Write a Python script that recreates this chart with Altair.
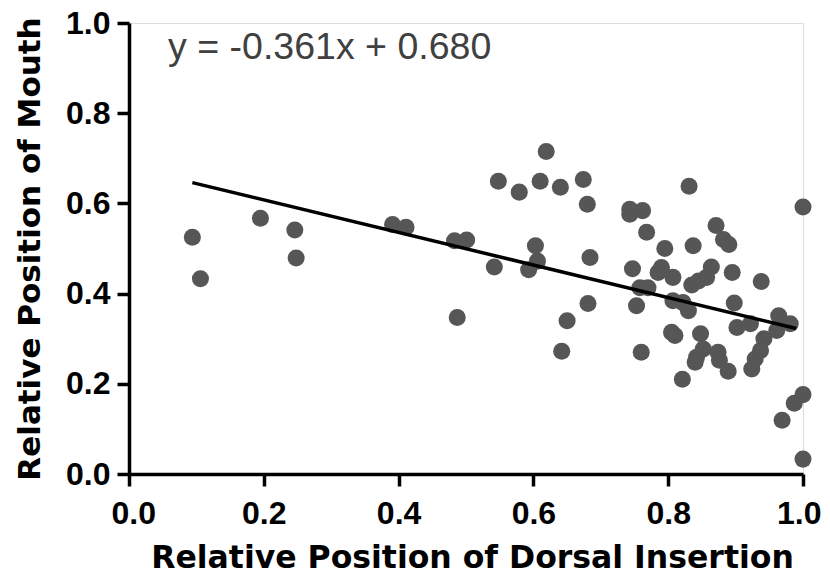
import altair as alt
import pandas as pd

# Scatter data
dorsal = [0.094, 0.106, 0.195, 0.246, 0.248, 0.391, 0.411, 0.483, 0.501, 0.487,
          0.548, 0.542, 0.579, 0.619, 0.610, 0.640, 0.674, 0.680, 0.603, 0.606,
          0.593, 0.684, 0.681, 0.650, 0.642, 0.743, 0.743, 0.762, 0.768, 0.795,
          0.747, 0.790, 0.785, 0.758, 0.770, 0.753, 0.760, 0.805, 0.831, 1.000,
          0.871, 0.882, 0.890, 0.837, 0.807, 0.864, 0.857, 0.845, 0.835, 0.895,
          0.938, 0.807, 0.822, 0.830, 0.898, 0.964, 0.981, 0.961, 0.902, 0.922,
          0.810, 0.848, 0.942, 0.937, 0.929, 0.924, 0.852, 0.842, 0.840, 0.874,
          0.876, 0.889, 0.821, 1.000, 0.987, 0.969, 1.000]
mouth = [0.525, 0.433, 0.567, 0.541, 0.479, 0.553, 0.547, 0.517, 0.519, 0.347,
         0.649, 0.459, 0.625, 0.715, 0.649, 0.636, 0.653, 0.598, 0.506, 0.472,
         0.453, 0.480, 0.378, 0.340, 0.272, 0.587, 0.576, 0.584, 0.536, 0.500,
         0.455, 0.458, 0.447, 0.413, 0.413, 0.373, 0.270, 0.314, 0.638, 0.592,
         0.551, 0.520, 0.509, 0.506, 0.436, 0.459, 0.436, 0.428, 0.419, 0.447,
         0.427, 0.384, 0.380, 0.362, 0.379, 0.351, 0.333, 0.318, 0.325, 0.333,
         0.307, 0.311, 0.300, 0.274, 0.255, 0.233, 0.277, 0.259, 0.248, 0.270,
         0.252, 0.228, 0.210, 0.176, 0.157, 0.119, 0.033]

slope = -0.361
intercept = 0.680
line_x = [0.094, 0.990]
equation = ["y = -0.361x + 0.680"]
eq_pos_x = [0.058]
eq_pos_y = [0.921]
tick_values = [0, 0.2, 0.4, 0.6, 0.8, 1.0]

pts = pd.DataFrame({"x": dorsal, "y": mouth})
ln = pd.DataFrame({"x": line_x, "y": [slope * v + intercept for v in line_x]})
eq = pd.DataFrame({"x": eq_pos_x, "y": eq_pos_y, "t": equation})

xscale = alt.Scale(domain=[0, 1], nice=False, zero=False)
yscale = alt.Scale(domain=[0, 1], nice=False, zero=False)

common = dict(values=tick_values, format=".1f", grid=False,
              domainColor="black", domainWidth=3.5,
              tickColor="black", tickWidth=3.5, tickSize=12,
              labelFont="Liberation Sans", labelFontWeight="bold", labelFontSize=32,
              labelColor="black", labelOverlap=False,
              titleFont="DejaVu Sans", titleFontWeight="bold", titleColor="black")

xaxis = alt.Axis(title="Relative Position of Dorsal Insertion", labelPadding=12,
                 labelFlush=True, labelFlushOffset=18,
                 titleFontSize=31.5, titlePadding=13, titleX=343, **common)
yaxis = alt.Axis(title="Relative Position of Mouth", labelPadding=7, labelFlush=False,
                 titleFontSize=31, titlePadding=19, **common)

points = alt.Chart(pts).mark_circle(size=290, color="#565656", opacity=1).encode(
    x=alt.X("x:Q", scale=xscale, axis=xaxis),
    y=alt.Y("y:Q", scale=yscale, axis=yaxis),
)

line = alt.Chart(ln).mark_line(color="black", strokeWidth=3.5).encode(
    x=alt.X("x:Q", scale=xscale),
    y=alt.Y("y:Q", scale=yscale),
)

text = alt.Chart(eq).mark_text(align="left", baseline="alphabetic", font="Liberation Sans",
                               fontSize=37.5, color="#404040").encode(
    x=alt.X("x:Q", scale=xscale),
    y=alt.Y("y:Q", scale=yscale),
    text="t:N",
)

chart = (points + line + text).properties(
    width=674, height=451,
    autosize=alt.AutoSizeParams(type="none"),
    padding={"left": 121, "top": 15, "right": 19, "bottom": 95},
).configure_view(stroke=None).configure(background="white")

chart.save("out.html", embed_options={"renderer": "svg", "actions": False})
